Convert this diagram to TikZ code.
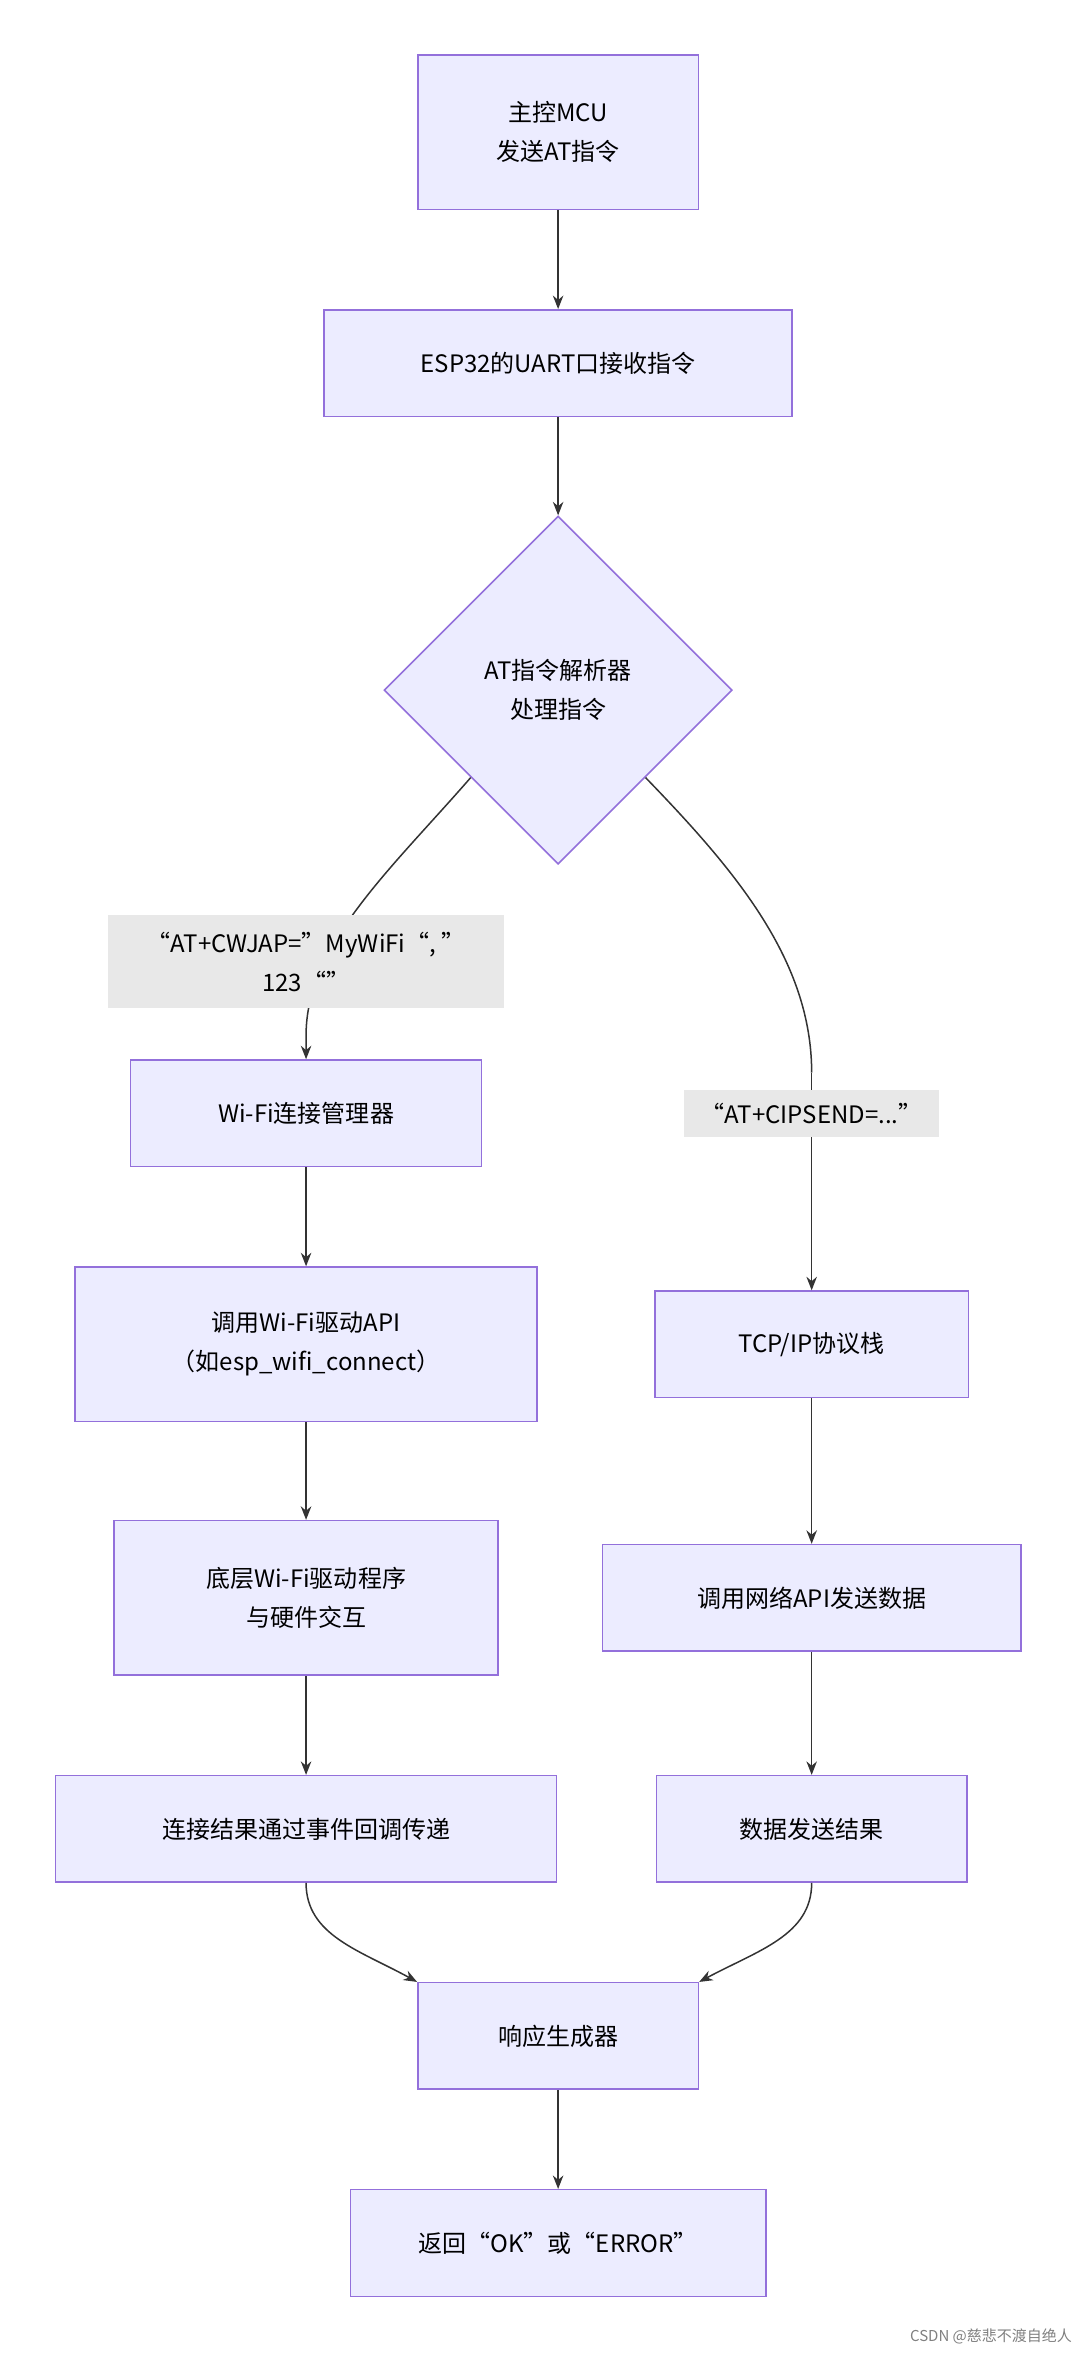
\documentclass[tikz,border=0pt]{standalone}
\usepackage{fontspec}
\setmainfont{Noto Sans CJK SC}
\usetikzlibrary{shapes.geometric,arrows.meta}
\definecolor{nf}{HTML}{ECECFF}
\definecolor{ns}{HTML}{9370DB}
\definecolor{lb}{HTML}{E8E8E8}
\definecolor{ln}{HTML}{333333}
\begin{document}
\begin{tikzpicture}[x=1pt,y=-1pt,
  box/.style={draw=ns,fill=nf,line width=1pt,align=center,font=\fontsize{16}{26}\selectfont,inner sep=0pt},
  lab/.style={fill=lb,align=center,font=\fontsize{16}{26}\selectfont,inner sep=0pt},
  arr/.style={draw=ln,line width=1pt,-{Stealth[length=9pt,width=7pt]}}]
\useasboundingbox (0,0) rectangle (722,1577);
\node[box,minimum width=187,minimum height=103] (A) at (372,88) {主控MCU\\发送AT指令};
\node[box,minimum width=312,minimum height=71] (B) at (372,242) {ESP32的UART口接收指令};
\node[box,diamond,aspect=1,minimum width=232,minimum height=232] (C) at (372,460) {AT指令解析器\\处理指令};
\node[box,minimum width=234,minimum height=71] (D) at (204,742) {Wi-Fi连接管理器};
\node[box,minimum width=308,minimum height=103] (E) at (204,896) {调用Wi-Fi驱动API\\（如esp\_wifi\_connect）};
\node[box,minimum width=256,minimum height=103] (F) at (204,1065) {底层Wi-Fi驱动程序\\与硬件交互};
\node[box,minimum width=334,minimum height=71] (G) at (204,1219) {连接结果通过事件回调传递};
\node[box,minimum width=209,minimum height=71] (H) at (541,896) {TCP/IP协议栈};
\node[box,minimum width=279,minimum height=71] (I) at (541,1065) {调用网络API发送数据};
\node[box,minimum width=207,minimum height=71] (J) at (541,1219) {数据发送结果};
\node[box,minimum width=187,minimum height=71] (K) at (372,1357) {响应生成器};
\node[box,minimum width=277,minimum height=71] (L) at (372,1495) {返回“OK”或“ERROR”};
\coordinate (R) at (541,715);
\draw[arr] (A) -- (B);
\draw[arr] (B) -- (C);
\draw[arr] (C.south west) .. controls (260,580) and (204,630) .. (204,690) -- (D.north);
\draw[ln,line width=1pt] (C.south east) .. controls (490,580) and (541,640) .. (R);
\draw[arr] (R) -- (H.north);
\draw[arr] (D) -- (E);
\draw[arr] (E) -- (F);
\draw[arr] (F) -- (G);
\draw[arr] (H) -- (I);
\draw[arr] (I) -- (J);
\draw[arr] (G.south) .. controls (204,1290) and (240,1300) .. (K.north west);
\draw[arr] (J.south) .. controls (541,1290) and (505,1300) .. (K.north east);
\draw[arr] (K) -- (L);
\node[lab,minimum width=264,minimum height=62] (L1) at (204,641) {“AT+CWJAP=”MyWiFi“, ”\\123“”};
\node[lab,minimum width=170,minimum height=31] (L2) at (541,742) {“AT+CIPSEND=...”};
\node[font=\fontsize{10}{12}\selectfont,text=gray,anchor=east] (W) at (718,1557) {CSDN @慈悲不渡自绝人};
\end{tikzpicture}
\end{document}
